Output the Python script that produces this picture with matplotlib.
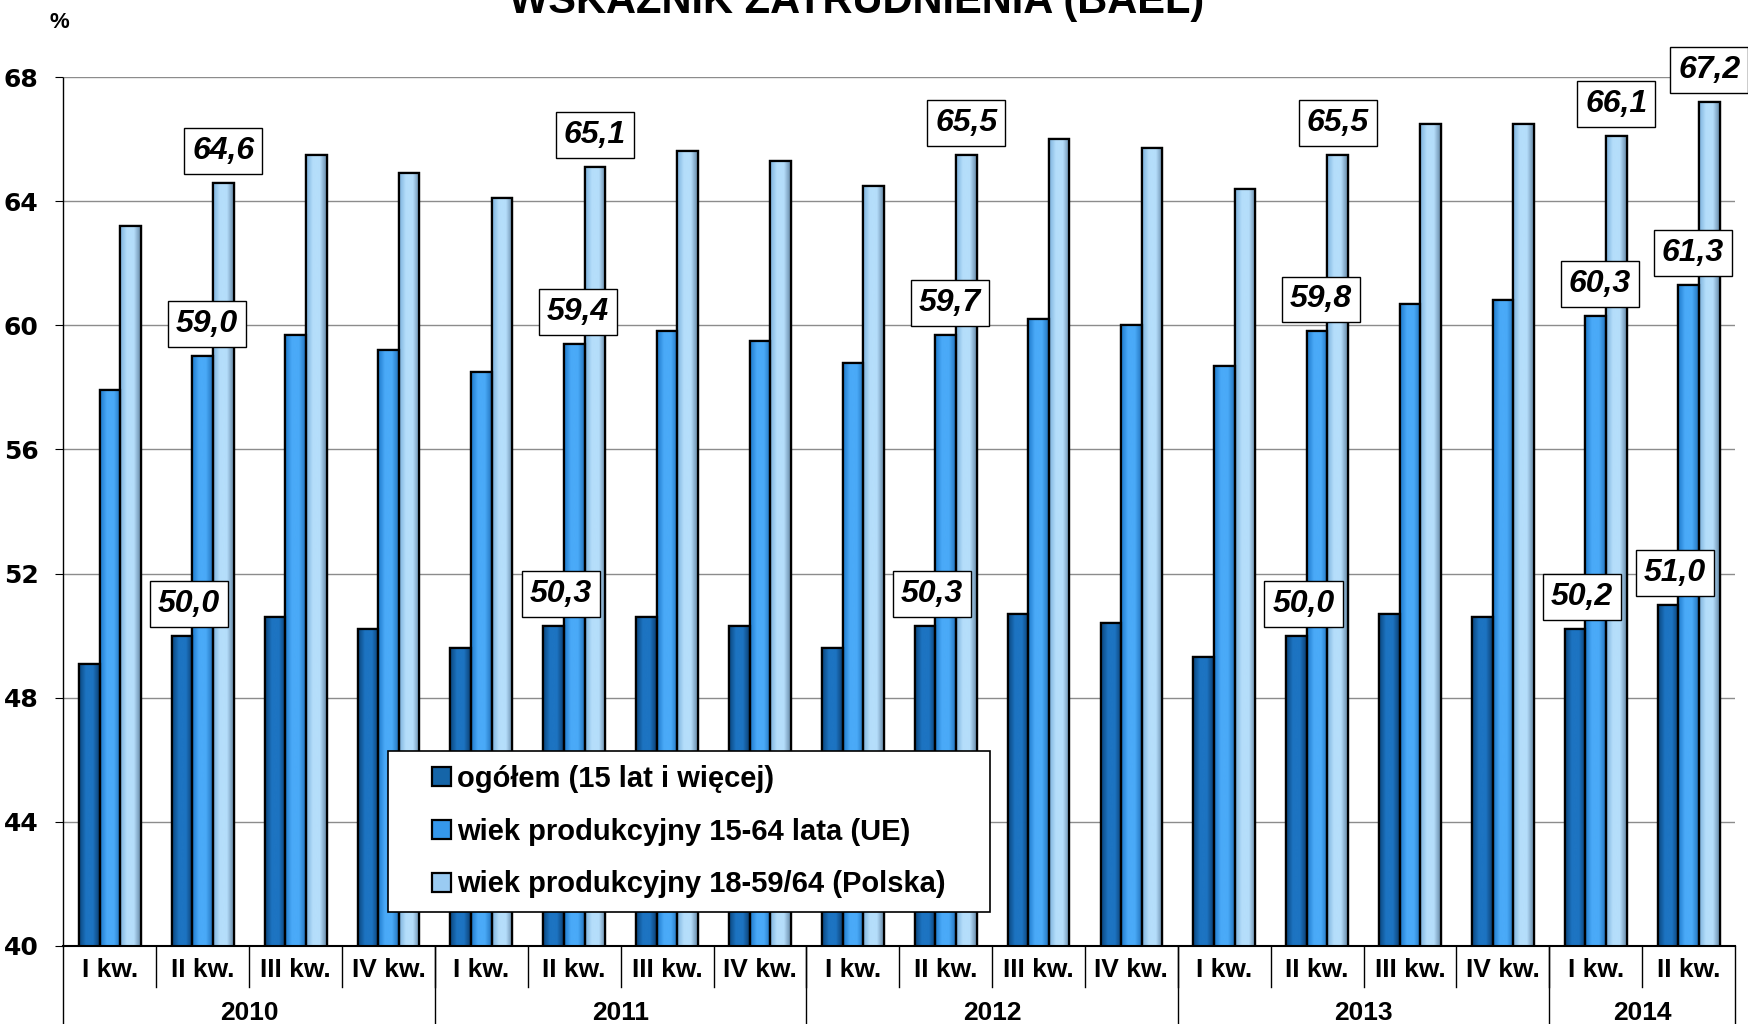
import matplotlib
matplotlib.use("Agg")
import matplotlib.pyplot as plt
import numpy as np
from matplotlib.colors import LinearSegmentedColormap
from matplotlib.patches import Rectangle
import matplotlib.transforms as mtransforms

plt.rcParams['font.family'] = ['Liberation Sans', 'DejaVu Sans']

# quarters 2010 Q1 .. 2014 Q2
quarters = ["I kw.", "II kw.", "III kw.", "IV kw."] * 4 + ["I kw.", "II kw."]
years = ["2010", "2011", "2012", "2013", "2014"]
year_len = [4, 4, 4, 4, 2]

ogolem = [49.1, 50.0, 50.6, 50.2,
          49.6, 50.3, 50.6, 50.3,
          49.6, 50.3, 50.7, 50.4,
          49.3, 50.0, 50.7, 50.6,
          50.2, 51.0]
ue_15_64 = [57.9, 59.0, 59.7, 59.2,
            58.5, 59.4, 59.8, 59.5,
            58.8, 59.7, 60.2, 60.0,
            58.7, 59.8, 60.7, 60.8,
            60.3, 61.3]
pl_18_59 = [63.2, 64.6, 65.5, 64.9,
            64.1, 65.1, 65.6, 65.3,
            64.5, 65.5, 66.0, 65.7,
            64.4, 65.5, 66.5, 66.5,
            66.1, 67.2]

series_names = ["ogółem (15 lat i więcej)",
                "wiek produkcyjny 15-64 lata (UE)",
                "wiek produkcyjny 18-59/64 (Polska)"]
labeled = [1, 5, 9, 13, 16, 17]

# colour gradients per series: left edge, centre, right edge
base_colors = ["#1565A8", "#3598EC", "#9ACBF2"]
gradients = [("#0A467E", "#1D74C2", "#0B3F72"),
             ("#1E7ACB", "#4AAAF8", "#2273BD"),
             ("#7DB2DD", "#B5DEFB", "#6689A8")]

Y_MIN, Y_MAX = 40, 68


def shade_bar(ax, bar, cols):
    x0 = bar.get_x()
    w = bar.get_width()
    h = bar.get_height()
    cmap = LinearSegmentedColormap.from_list("g", [cols[0], cols[1], cols[1], cols[2]])
    grad = np.linspace(0, 1, 64).reshape(1, -1)
    im = ax.imshow(grad, cmap=cmap, extent=(x0, x0 + w, Y_MIN, h), aspect='auto',
                   zorder=2.5, interpolation='bicubic')
    im.set_clip_path(bar)


fig = plt.figure(figsize=(17.48, 10.24), dpi=100)
ax = fig.add_axes([0.0363, 0.0762, 0.9563, 0.8486])

x = np.arange(len(quarters))
w = 0.222
data = [ogolem, ue_15_64, pl_18_59]
handles = []
for i, vals in enumerate(data):
    bars = ax.bar(x + (i - 1) * w, vals, w, color=base_colors[i], edgecolor='black',
                  linewidth=1.6, zorder=2, label=series_names[i])
    handles.append(bars)
    for b in bars:
        shade_bar(ax, b, gradients[i])
    ax.bar(x + (i - 1) * w, vals, w, fill=False, edgecolor='black', linewidth=1.6, zorder=3)

ax.set_xlim(-0.5, len(quarters) - 0.5)
ax.set_ylim(Y_MIN, Y_MAX)
ax.set_yticks(np.arange(40, 69, 4))
ax.yaxis.grid(True, color='#8c8c8c', linewidth=1.0)
ax.set_axisbelow(True)
ax.tick_params(axis='y', length=6, width=0.8, pad=12)
for lab in ax.get_yticklabels():
    lab.set_fontweight('bold')
    lab.set_family('DejaVu Sans')
    lab.set_fontsize(18)
ax.set_xticks([])
for s in ['top', 'right']:
    ax.spines[s].set_visible(False)
ax.spines['left'].set_linestyle((0, (1, 1)))
ax.spines['left'].set_linewidth(1.0)
ax.spines['bottom'].set_linewidth(1.5)

# data labels
offs = [7, 4, 0]
for i, vals in enumerate(data):
    for k in labeled:
        ax.annotate(f"{vals[k]:.1f}".replace('.', ','), (x[k] + (i - 1) * w, vals[k]),
                    xytext=(offs[i], 17), textcoords='offset pixels', ha='center', va='bottom',
                    fontsize=23, fontweight='bold', fontstyle='italic', zorder=7,
                    annotation_clip=False,
                    bbox=dict(boxstyle='square,pad=0.25', facecolor='white', edgecolor='black',
                              linewidth=1.0))

# category axis: quarter labels, year labels, separators
trans = mtransforms.blended_transform_factory(ax.transData, ax.transAxes)
for k, q in enumerate(quarters):
    ax.text(x[k], -0.028, q, transform=trans, ha='center', va='center', fontsize=19,
            fontweight='bold')
for k in range(1, len(quarters)):
    ax.plot([k - 0.5, k - 0.5], [0, -0.047], transform=trans, color='black', lw=1.0,
            clip_on=False)
start = 0
for yr, n in zip(years, year_len):
    ax.text(start + n / 2 - 0.5, -0.077, yr, transform=trans, ha='center', va='center',
            fontsize=19, fontweight='bold')
    ax.plot([start - 0.5, start - 0.5], [0, -0.1], transform=trans, color='black', lw=1.0,
            clip_on=False)
    start += n
ax.plot([start - 0.5, start - 0.5], [0, -0.1], transform=trans, color='black', lw=1.0,
        clip_on=False)

# legend with white frame
frame = Rectangle((0.194, 0.039), 0.36, 0.185, transform=ax.transAxes, facecolor='white',
                  edgecolor='black', linewidth=1.2, zorder=5)
ax.add_patch(frame)
leg = ax.legend(handles=handles, loc='center', bbox_to_anchor=(0.374, 0.1315),
                frameon=False, prop={'weight': 'bold', 'size': 21},
                handlelength=0.65, handleheight=0.65, handletextpad=0.2, labelspacing=0.85)
leg.set_zorder(6)

# title sits partly above the figure edge, as in the source image
fig.text(0.49, 1 - 13 / 1024, "WSKAŹNIK ZATRUDNIENIA (BAEL)", ha='center', va='baseline',
         fontsize=30, fontweight='bold')
fig.text(0.034, 1 - 22 / 1024, "%", ha='center', va='center', fontsize=16, fontweight='bold')

fig.savefig("out.png", dpi=100)
